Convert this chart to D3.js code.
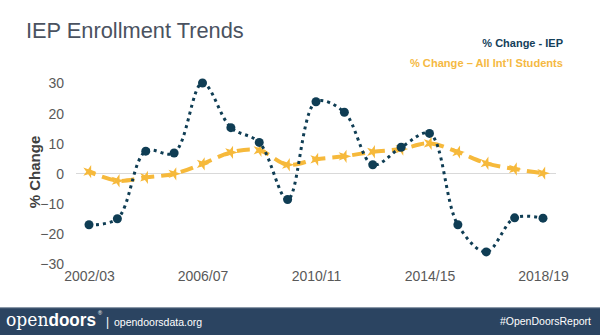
<!DOCTYPE html>
<html><head><meta charset="utf-8">
<script src="https://cdn.jsdelivr.net/npm/d3@7"></script>
<style>body{margin:0;background:#fff;}svg{display:block;font-family:Arial,"Liberation Sans",sans-serif;}</style>
</head><body>
<svg id="c" width="600" height="335"></svg>
<script>
const years = ["2002/03","2003/04","2004/05","2005/06","2006/07","2007/08","2008/09","2009/10","2010/11","2011/12","2012/13","2013/14","2014/15","2015/16","2016/17","2017/18","2018/19"];
const iepChange = [-17, -15, 7.4, 6.8, 30, 15.2, 10.3, -8.6, 23.8, 20.3, 2.9, 8.7, 13.3, -17, -26, -14.7, -14.8];
const intlChange = [0.6, -2.4, -1.3, -0.1, 3.2, 7.0, 7.7, 2.9, 4.7, 5.7, 7.2, 8.1, 10.0, 7.1, 3.4, 1.5, 0.1];
const yTicks = [-30, -20, -10, 0, 10, 20, 30];
const xTickLabels = ["2002/03","2006/07","2010/11","2014/15","2018/19"];

const svg = d3.select("#c");
const x = d3.scalePoint().domain(years).range([89, 543]);
const y = d3.scaleLinear().domain([-30, 30]).range([264, 83]);

// title
svg.append("text").attr("x", 26).attr("y", 38).attr("font-size", 21.8).attr("fill", "#4a5260").text("IEP Enrollment Trends");

// legend
svg.append("text").attr("x", 563).attr("y", 47).attr("text-anchor", "end").attr("font-size", 11).attr("font-weight", "bold").attr("fill", "#14405a").text("% Change - IEP");
svg.append("text").attr("x", 563).attr("y", 67).attr("text-anchor", "end").attr("font-size", 11.1).attr("font-weight", "bold").attr("fill", "#f5b942").text("% Change \u2013 All Int\u2019l Students");

// y axis
const yAxis = d3.axisLeft(y).tickValues(yTicks).tickSize(0).tickPadding(0);
const gy = svg.append("g").attr("transform", "translate(64,0)").call(yAxis);
gy.select(".domain").remove();
gy.selectAll("text").attr("font-size", 14).attr("fill", "#595959").attr("font-family", "Arial,'Liberation Sans',sans-serif").attr("dy", "0.35em");

// x axis
const xAxis = d3.axisBottom(x).tickValues(xTickLabels).tickSize(0).tickPadding(0);
const gx = svg.append("g").attr("transform", "translate(0,270)").call(xAxis);
gx.select(".domain").remove();
gx.selectAll("text").attr("font-size", 14).attr("fill", "#595959").attr("font-family", "Arial,'Liberation Sans',sans-serif").attr("dy", "0.75em");

// y label
svg.append("text").attr("transform", "translate(40,172) rotate(-90)").attr("text-anchor", "middle").attr("font-size", 15).attr("font-weight", "bold").attr("fill", "#404040").text("% Change");

// zero line
svg.append("line").attr("x1", x(years[0]) - 13).attr("x2", x(years[years.length-1]) + 13).attr("y1", y(0)).attr("y2", y(0)).attr("stroke", "#d9d9d9").attr("stroke-width", 1);

// intl line
const line = (arr) => d3.line().x((d,i) => x(years[i])).y(d => y(d)).curve(d3.curveCatmullRom.alpha(0.5))(arr);
svg.append("path").attr("d", line(intlChange)).attr("fill", "none").attr("stroke", "#f6b93b").attr("stroke-width", 4).attr("stroke-dasharray", "13,7").attr("stroke-dashoffset", 6);
svg.selectAll(".star").data(intlChange).enter().append("path")
  .attr("d", d3.symbol().type(d3.symbolStar).size(55))
  .attr("transform", (d,i) => `translate(${x(years[i])},${y(d)}) rotate(18)`)
  .attr("fill", "#f6b93b");

// iep line
svg.append("path").attr("d", line(iepChange)).attr("fill", "none").attr("stroke", "#0f3d54").attr("stroke-width", 3).attr("stroke-dasharray", "3,4");
svg.selectAll(".dot").data(iepChange).enter().append("circle")
  .attr("cx", (d,i) => x(years[i])).attr("cy", d => y(d)).attr("r", 4.5).attr("fill", "#0f3d54");

// footer
svg.append("rect").attr("x", 0).attr("y", 307).attr("width", 600).attr("height", 28).attr("fill", "#2b4461");
svg.append("rect").attr("x", 0).attr("y", 307).attr("width", 600).attr("height", 1.2).attr("fill", "#8a98a8");
const ft = svg.append("text").attr("x", 6).attr("y", 326).attr("fill", "#fff").attr("textLength", 90).attr("lengthAdjust", "spacingAndGlyphs");
ft.append("tspan").attr("font-family", "'DejaVu Serif',serif").attr("font-size", 18).attr("font-weight", "300").text("open");
ft.append("tspan").attr("font-size", 18).attr("font-weight", "bold").text("doors");
svg.append("text").attr("x", 98).attr("y", 315).attr("fill", "#fff").attr("font-size", 5.5).text("\u00ae");
svg.append("text").attr("x", 106).attr("y", 326).attr("fill", "#fff").attr("font-size", 12).text("|");
svg.append("text").attr("x", 114).attr("y", 326).attr("fill", "#fff").attr("font-size", 10.5).text("opendoorsdata.org");
svg.append("text").attr("x", 591).attr("y", 325).attr("text-anchor", "end").attr("fill", "#fff").attr("font-size", 10.5).text("#OpenDoorsReport");
</script>
</body></html>
